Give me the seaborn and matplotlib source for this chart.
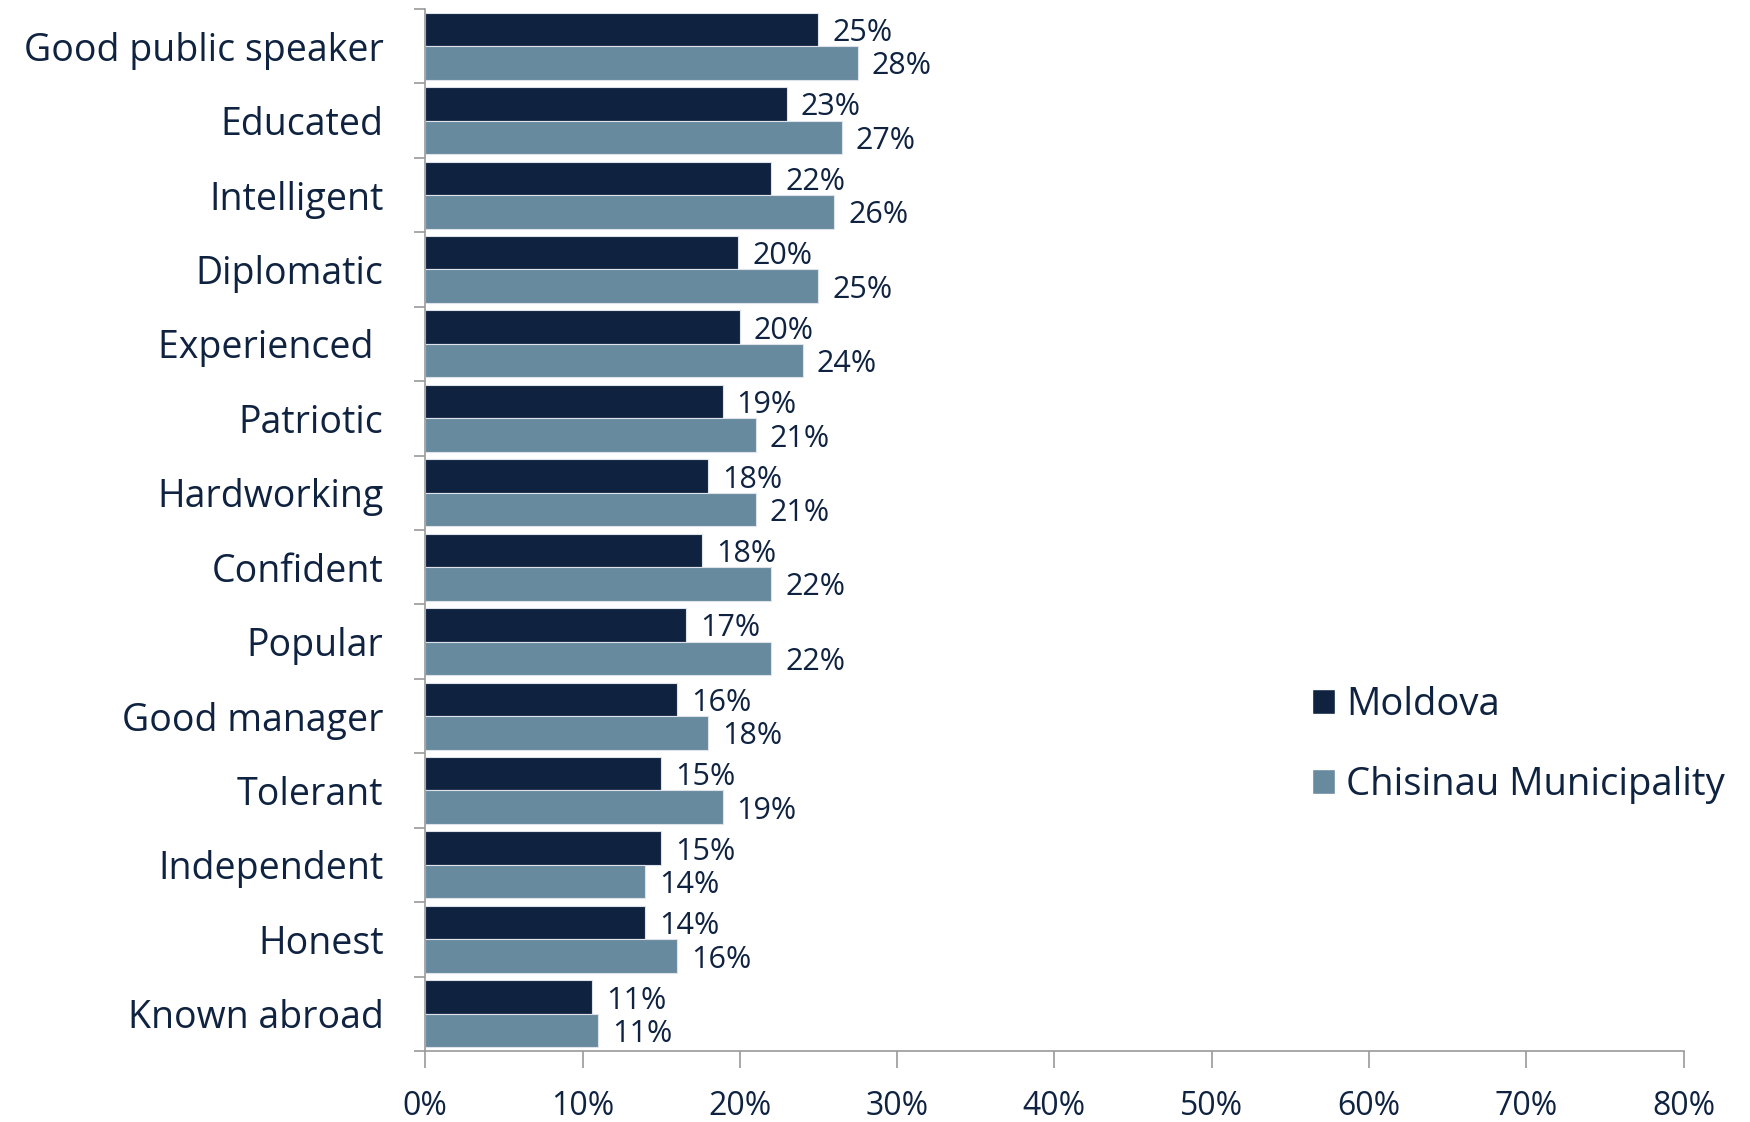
import pandas as pd
import numpy as np
import matplotlib
matplotlib.use("Agg")
import matplotlib.pyplot as plt
import seaborn as sns
from matplotlib.patches import Patch

# date
traits = ["Good public speaker", "Educated", "Intelligent", "Diplomatic", "Experienced ",
          "Patriotic", "Hardworking", "Confident", "Popular", "Good manager",
          "Tolerant", "Independent", "Honest", "Known abroad"]
moldova = [25.0, 23.0, 22.0, 19.9, 20.0, 18.9, 18.0, 17.6, 16.6, 16.0, 15.0, 15.0, 14.0, 10.6]
chisinau = [27.5, 26.5, 26.0, 25.0, 24.0, 21.0, 21.0, 22.0, 22.0, 18.0, 18.9, 14.0, 16.0, 11.0]
moldova_labels = ["25%", "23%", "22%", "20%", "20%", "19%", "18%", "18%", "17%", "16%",
                  "15%", "15%", "14%", "11%"]
chisinau_labels = ["28%", "27%", "26%", "25%", "24%", "21%", "21%", "22%", "22%", "18%",
                   "19%", "14%", "16%", "11%"]
regions = ["Moldova", "Chisinau Municipality"]
xticks = [0, 10, 20, 30, 40, 50, 60, 70, 80]

navy = "#0F2341"
steel = "#688A9F"
grey = "#9A9A9A"

df = pd.DataFrame({
    "trait": traits * 2,
    "value": moldova + chisinau,
    "region": [regions[0]] * len(traits) + [regions[1]] * len(traits),
})

sns.set_style("white")
plt.rcParams["font.family"] = ["Open Sans", "DejaVu Sans"]
plt.rcParams["text.color"] = navy

fig = plt.figure(figsize=(17.5, 11.22), dpi=100)
ax = fig.add_axes([0.243, 0.0633, 0.719, 0.9287])

sns.barplot(data=df, x="value", y="trait", hue="region", orient="h",
            palette=[navy, steel], width=0.9, ax=ax, legend=False,
            edgecolor="#DDE3E8", linewidth=0.8, saturation=1)

# etichete procente
for cont, labs in zip(ax.containers, [moldova_labels, chisinau_labels]):
    texts = ax.bar_label(cont, labels=labs, padding=10, fontsize=22, color=navy)
    for t in texts:
        t.set_verticalalignment("center_baseline")

ax.set_xlim(0, 80)
ax.set_ylim(len(traits) - 0.5, -0.5)
ax.set_xticks(xticks)
ax.set_xticklabels([f"{t}%" for t in xticks], fontsize=23, color=navy)
ax.set_xlabel("")
ax.set_ylabel("")
ax.tick_params(bottom=True, left=True)
ax.tick_params(axis="y", which="major", length=0, labelsize=27, labelcolor=navy, pad=30)
ax.set_yticks(np.arange(-0.5, len(traits) + 0.5, 1), minor=True)
ax.tick_params(axis="y", which="minor", left=True, length=8, width=1.2, color=grey,
               direction="out")
ax.tick_params(axis="x", which="major", length=12, width=1.2, color=grey,
               direction="out", pad=16)

for s in ["top", "right"]:
    ax.spines[s].set_visible(False)
for s in ["left", "bottom"]:
    ax.spines[s].set_color(grey)
    ax.spines[s].set_linewidth(1.2)

handles = [Patch(facecolor=navy), Patch(facecolor=steel)]
fig.legend(handles, regions, loc="center left", bbox_to_anchor=(0.73, 0.336),
           frameon=False, fontsize=27.5, handlelength=0.6, handleheight=0.6,
           handletextpad=0.3, labelspacing=1.1, labelcolor=navy)

fig.savefig("out.png", dpi=100)
